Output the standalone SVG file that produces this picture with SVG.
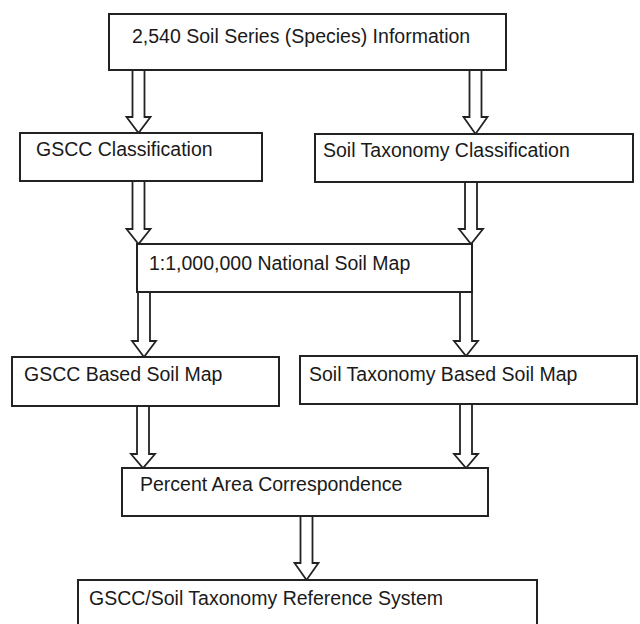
<svg xmlns="http://www.w3.org/2000/svg" width="640" height="624" viewBox="0 0 640 624">
  <style>
    .box { fill: #ffffff; stroke: #222222; stroke-width: 2; }
    .arrow { fill: #ffffff; stroke: #222222; stroke-width: 1.8; stroke-linejoin: miter; }
    .label { font-family: "Liberation Sans", Arial, sans-serif; font-size: 19.5px; fill: #1a1a1a; }
  </style>
  <rect width="640" height="624" fill="#ffffff"/>

  <!-- hollow block arrows between boxes -->
  <g id="connectors">
    <path class="arrow" d="M132.5,70 V117 H126.5 L138.5,133 L150.5,117 H144.5 V70"/>
    <path class="arrow" d="M469.5,70 V117 H463.5 L475.5,134 L487.5,117 H481.5 V70"/>
    <path class="arrow" d="M132.5,181 V229 H126.5 L138.5,244 L150.5,229 H144.5 V181"/>
    <path class="arrow" d="M465,182 V229 H459 L471,244 L483,229 H477 V182"/>
    <path class="arrow" d="M138,292 V341 H132 L144,357 L156,341 H150 V292"/>
    <path class="arrow" d="M460,292 V341 H454 L466,356 L478,341 H472 V292"/>
    <path class="arrow" d="M137,406 V454 H131 L143,468 L155,454 H149 V406"/>
    <path class="arrow" d="M460,404 V454 H454 L466,468 L478,454 H472 V404"/>
    <path class="arrow" d="M300.5,516 V563 H294.5 L306.5,580 L318.5,563 H312.5 V516"/>
  </g>

  <g id="soil-series">
    <rect class="box" x="109" y="14" width="397" height="56"/>
    <text class="label" x="132" y="43">2,540 Soil Series (Species) Information</text>
  </g>

  <g id="gscc-classification">
    <rect class="box" x="20" y="133" width="242" height="48"/>
    <text class="label" x="36" y="156">GSCC Classification</text>
  </g>

  <g id="taxonomy-classification">
    <rect class="box" x="315" y="134" width="318" height="48"/>
    <text class="label" x="323" y="157">Soil Taxonomy Classification</text>
  </g>

  <g id="national-map">
    <rect class="box" x="137" y="244" width="335" height="48"/>
    <text class="label" x="149" y="270">1:1,000,000 National Soil Map</text>
  </g>

  <g id="gscc-map">
    <rect class="box" x="12" y="357" width="267" height="49"/>
    <text class="label" x="24" y="381">GSCC Based Soil Map</text>
  </g>

  <g id="taxonomy-map">
    <rect class="box" x="300" y="356" width="337" height="48"/>
    <text class="label" x="309" y="381">Soil Taxonomy Based Soil Map</text>
  </g>

  <g id="area-correspondence">
    <rect class="box" x="122" y="468" width="366" height="48"/>
    <text class="label" x="140" y="491">Percent Area Correspondence</text>
  </g>

  <g id="reference-system">
    <rect class="box" x="78" y="580" width="459" height="60"/>
    <text class="label" x="89" y="605">GSCC/Soil Taxonomy Reference System</text>
  </g>
</svg>
